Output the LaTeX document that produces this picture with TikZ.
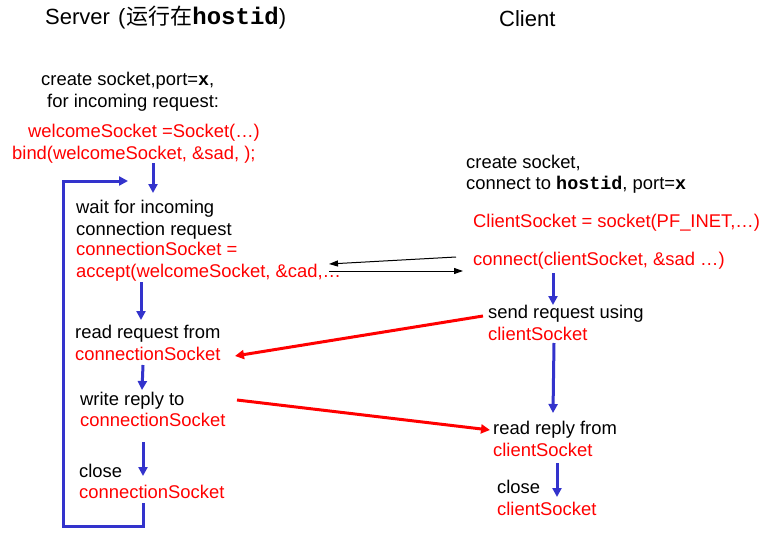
\documentclass[tikz,border=0pt]{standalone}
\usepackage{fontspec}
\setmainfont{Liberation Sans}
\newfontfamily\codefont{Liberation Mono}
\newfontfamily\cjkfont{Noto Sans CJK SC}
\usetikzlibrary{arrows.meta}

\definecolor{flowblue}{HTML}{3333CC}
\definecolor{callred}{HTML}{FF0000}

\newcommand{\code}[1]{{\codefont\bfseries #1}}

\tikzset{
  txt/.style={anchor=base west, inner sep=0pt, text=black,
              font=\fontsize{18.4}{22}\selectfont},
  calltxt/.style={txt, text=callred},
  title/.style={anchor=base west, inner sep=0pt,
                font=\fontsize{22}{26}\selectfont},
  flow/.style={draw=flowblue, line width=3pt,
               -{Triangle[width=9pt,length=9pt]}},
  loopline/.style={draw=flowblue, line width=3pt,
               -{Triangle[width=9pt,length=9pt]}},
  msg/.style={draw=callred, line width=3pt,
              -{Triangle[width=9pt,length=9pt]}},
  handshake/.style={draw=black, line width=1pt,
              -{Triangle[width=6pt,length=9pt]}}
}

\begin{document}
\begin{tikzpicture}[x=1pt,y=-1pt]
\useasboundingbox (0,0) rectangle (766,543);
\fill[white] (0,0) rectangle (766,543);

% column headings
\node[title] (srvtitle) at (45,25)
  {Server\hspace{2pt} ({\cjkfont\hspace{1pt}运行在}{\codefont\bfseries\fontsize{24}{26}\selectfont hostid})};
\node[title] (clititle) at (499,27) {Client};

% server side
\node[txt] (sv1) at (41,85) {create socket,port=\code{x},};
\node[txt] (sv2) at (47,107) {for incoming request:};
\node[calltxt] (sv3) at (28,137) {welcomeSocket =Socket(…)};
\node[calltxt] (sv4) at (12,159) {bind(welcomeSocket, \&sad, );};

\node[txt] (wait1) at (76,213) {wait for incoming};
\node[txt] (wait2) at (76,235) {connection request};
\node[calltxt] (wait3) at (76,255) {connectionSocket =};
\node[calltxt] (wait4) at (76,277) {accept(welcomeSocket, \&cad,…};

\node[txt] (rd1) at (75,338) {read request from};
\node[calltxt] (rd2) at (75,360) {connectionSocket};

\node[txt] (wr1) at (80,405) {write reply to};
\node[calltxt] (wr2) at (80,426) {connectionSocket};

\node[txt] (cl1) at (79,477) {close};
\node[calltxt] (cl2) at (79,498) {connectionSocket};

% client side
\node[txt] (cc1) at (466,168) {create socket,};
\node[txt] (cc2) at (466,189) {connect to \code{hostid}, port=\code{x}};
\node[calltxt] (cs) at (473,227) {ClientSocket = socket(PF\_INET,…)};
\node[calltxt] (cn) at (473,265) {connect(clientSocket, \&sad …)};

\node[txt] (sd1) at (488,318) {send request using};
\node[calltxt] (sd2) at (488,340) {clientSocket};

\node[txt] (rr1) at (493,434) {read reply from};
\node[calltxt] (rr2) at (493,456) {clientSocket};

\node[txt] (cc3) at (497,493) {close};
\node[calltxt] (cc4) at (497,515) {clientSocket};

% connector end points
\coordinate (bindout) at (153,163);
\coordinate (waitin) at (153,193);
\coordinate (acceptout) at (141,282);
\coordinate (readin) at (141,320);
\coordinate (readout) at (143,365);
\coordinate (writein) at (142,390);
\coordinate (writeout) at (143,442);
\coordinate (closein) at (143,476);
\coordinate (closeout) at (143,503);
\coordinate (loopbl) at (63,526);
\coordinate (looptl) at (63,181);
\coordinate (loopin) at (128,181);

\coordinate (connout) at (553,273);
\coordinate (sendin) at (553,305);
\coordinate (sendout) at (554,343);
\coordinate (replyin) at (553,413);
\coordinate (replyout) at (557,463);
\coordinate (cclosein) at (557,497);

\coordinate (synfrom) at (456,257);
\coordinate (synto) at (329,264);
\coordinate (ackfrom) at (329,271);
\coordinate (ackto) at (463,271);

\coordinate (reqfrom) at (483,316);
\coordinate (reqto) at (235,356);
\coordinate (repfrom) at (237,400);
\coordinate (repto) at (490,430);

% server flow
\draw[flow] (bindout) -- (waitin);
\draw[flow] (acceptout) -- (readin);
\draw[flow] (readout) -- (writein);
\draw[flow] (writeout) -- (closein);
\draw[loopline] (closeout) |- (loopbl) -- (looptl) -- (loopin);

% client flow
\draw[flow] (connout) -- (sendin);
\draw[flow] (sendout) -- (replyin);
\draw[flow] (replyout) -- (cclosein);

% connection setup
\draw[handshake] (synfrom) -- (synto);
\draw[handshake] (ackfrom) -- (ackto);

% request and reply
\draw[msg] (reqfrom) -- (reqto);
\draw[msg] (repfrom) -- (repto);
\end{tikzpicture}
\end{document}
